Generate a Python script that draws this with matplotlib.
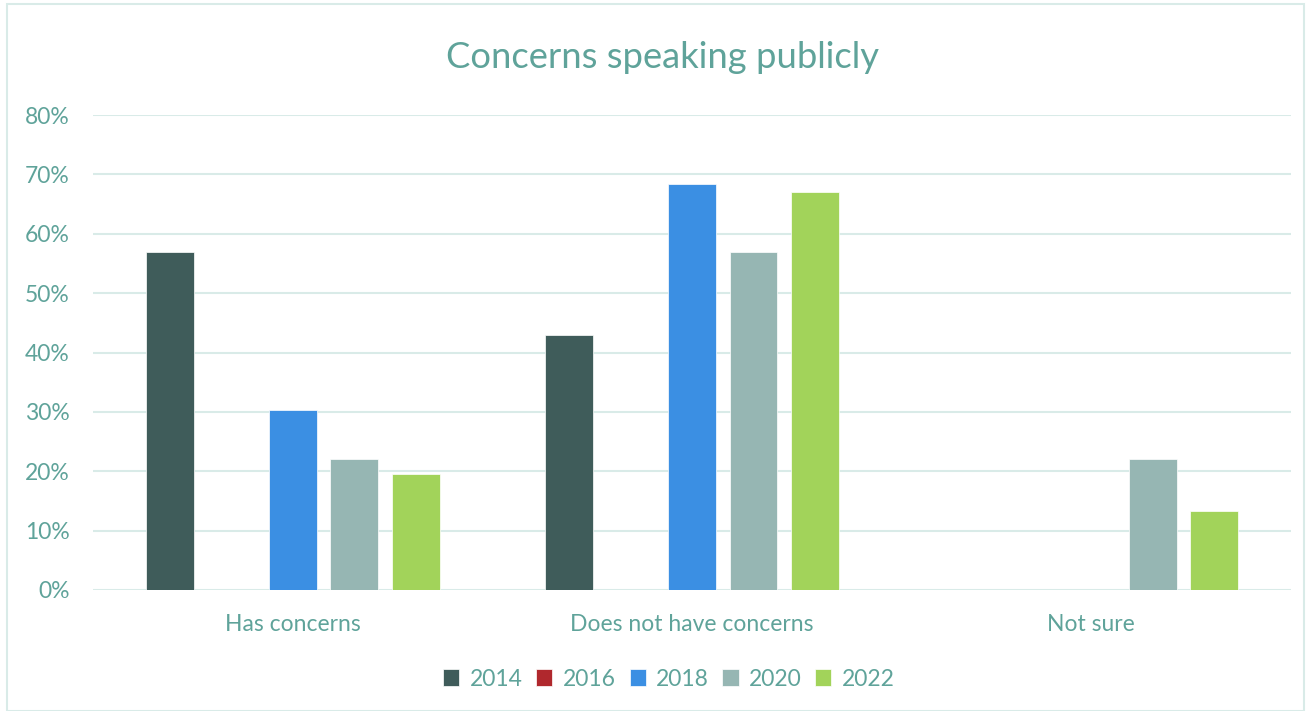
import matplotlib
matplotlib.use("Agg")
import matplotlib.pyplot as plt
import numpy as np
from matplotlib.patches import Rectangle
from matplotlib.ticker import FuncFormatter

categories = ["Has concerns", "Does not have concerns", "Not sure"]
years = ["2014", "2016", "2018", "2020", "2022"]
v2014 = [0.57, 0.43, 0.0]
v2016 = [0.0, 0.0, 0.0]
v2018 = [0.304, 0.684, 0.0]
v2020 = [0.22, 0.57, 0.22]
v2022 = [0.195, 0.67, 0.133]
series = [v2014, v2016, v2018, v2020, v2022]
colors = ["#3f5c5a", "#b0282d", "#3b8fe3", "#96b6b3", "#a2d35a"]

txt = "#5fa39a"
grid = "#d9ebe8"
plt.rcParams['font.family'] = ['Lato', 'DejaVu Sans']

fig = plt.figure(figsize=(13.11, 7.11), dpi=100)
ax = fig.add_axes([93/1311, 1-590/711, (1291-93)/1311, (590-115)/711])

x = np.arange(len(categories))
pitch = 0.154
width = 0.12
for i, (vals, c, y) in enumerate(zip(series, colors, years)):
    ax.bar(x + (i-2)*pitch, vals, width, color=c, label=y, zorder=3,
           edgecolor='white', linewidth=0.5)

ax.set_xlim(-0.5, 2.5)
ax.set_ylim(0, 0.8)
ax.set_yticks(np.arange(0, 0.81, 0.1))
ax.yaxis.set_major_formatter(FuncFormatter(lambda v, p: f"{v*100:.0f}%"))
ax.grid(axis='y', color=grid, linewidth=1.5, zorder=0)
ax.set_axisbelow(True)
for s in ax.spines.values():
    s.set_visible(False)
ax.tick_params(axis='both', length=0, labelsize=16.5, labelcolor=txt)
ax.tick_params(axis='y', pad=17)
ax.tick_params(axis='x', pad=17)
ax.set_xticks(x)
ax.set_xticklabels(categories)

fig.text(0.5 + 7/1311, 1-57/711, "Concerns speaking publicly", ha='center', va='center',
         fontsize=26.2, color=txt)

leg = fig.legend(loc='center', bbox_to_anchor=(669/1311, 1-679/711), ncol=5, frameon=False,
                 fontsize=16.5, handlelength=0.7, handleheight=0.7, handletextpad=0.45,
                 columnspacing=0.6, labelcolor=txt)

fig.patches.append(Rectangle((7/1311, 0.0), 1-14/1311, 1-4/711, transform=fig.transFigure,
                             fill=False, edgecolor=grid, linewidth=1.5))

fig.savefig("out.png", dpi=100)
